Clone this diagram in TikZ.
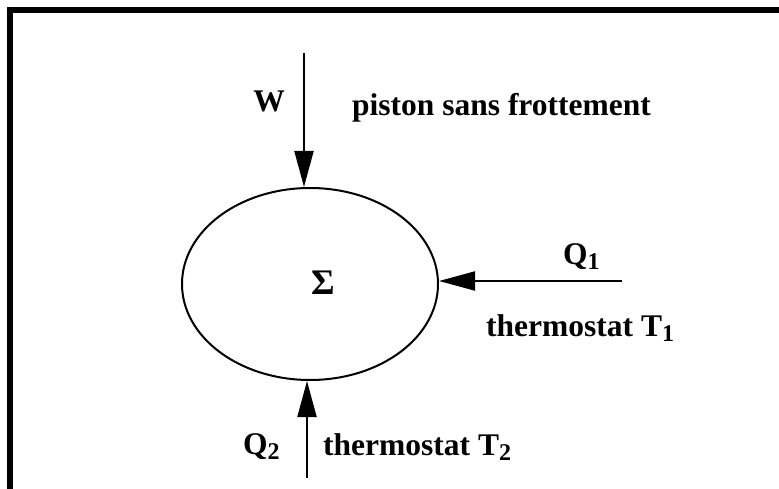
\documentclass[tikz,border=0pt]{standalone}
\usepackage{fontspec}
\setmainfont{Liberation Serif}
\usetikzlibrary{arrows.meta,shapes.geometric}
\newcommand{\sbs}[1]{\raisebox{-0.18em}{\fontsize{24}{24}\selectfont #1}}
\begin{document}
\begin{tikzpicture}[x=1pt,y=-1pt,
  lbl/.style={font=\fontsize{31.5}{31.5}\selectfont\bfseries, inner sep=0pt},
  flow/.style={line width=2pt, -{Triangle[length=36pt,width=19pt]}},
  frame/.style={line width=6pt}]
\useasboundingbox (0,0) rectangle (779,489);
\draw[frame] (10,489) -- (10,10) -- (779,10);
\node[draw, line width=2pt, ellipse, minimum width=256pt, minimum height=192pt, inner sep=0pt] (sys) at (310,284) {};
\node[lbl, font=\fontsize{36}{36}\selectfont\bfseries] (sigma) at (323,283) {Σ};
\coordinate (wtop) at (304,53);
\coordinate (q1end) at (622,281);
\coordinate (q2end) at (307,478);
\draw[flow] (wtop) -- (wtop |- sys.north);
\draw[flow] (q1end) -- (sys.east |- q1end);
\draw[flow] (q2end) -- (q2end |- sys.south);
\node[lbl] (w) at (269,101) {W};
\node[lbl, anchor=base west] (piston) at (352,116) {piston sans frottement};
\node[lbl, anchor=base west] (q1) at (563,264) {Q\sbs{1}};
\node[lbl, anchor=base west] (th1) at (486,336) {thermostat T\sbs{1}};
\node[lbl, anchor=base west] (q2) at (243,454) {Q\sbs{2}};
\node[lbl, anchor=base west] (th2) at (323,455) {thermostat T\sbs{2}};
\end{tikzpicture}
\end{document}
